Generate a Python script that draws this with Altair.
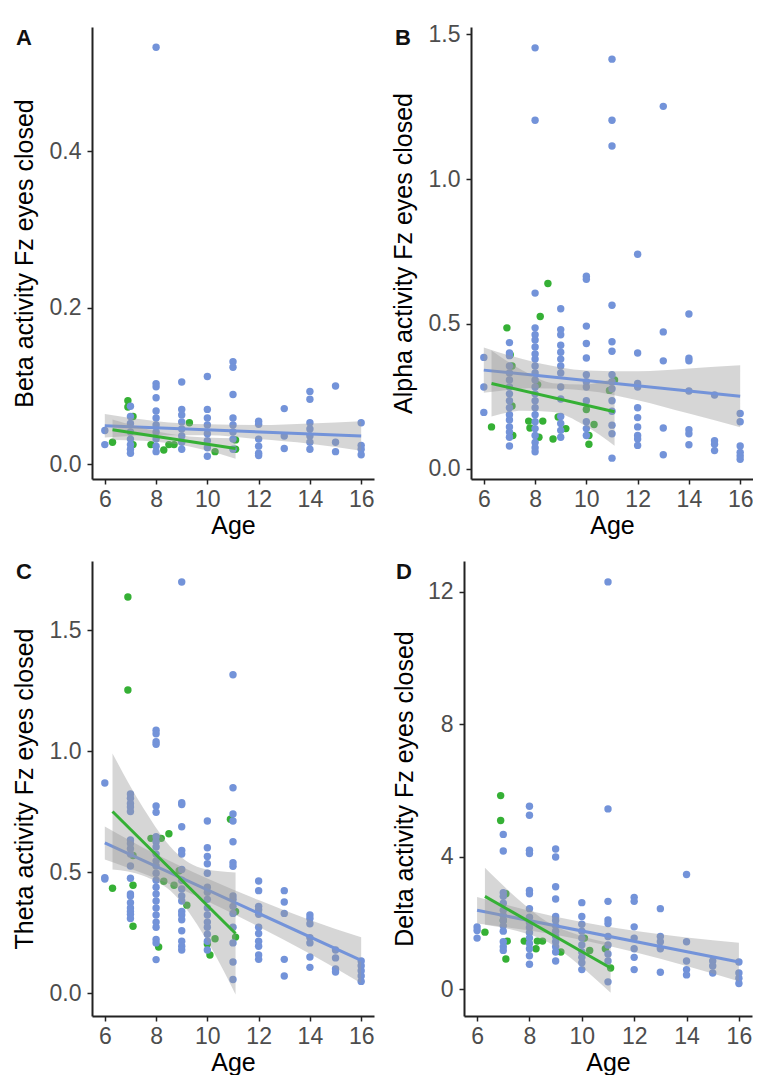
import altair as alt
import pandas as pd

BLUE = "#7393D9"
GREEN = "#35B035"
BAND = "#999999"
FONT = "Liberation Sans"

X_DOMAIN = [5.5, 16.5]
X_TICKS = [6, 8, 10, 12, 14, 16]
BLUE_AGES = [6, 7, 8, 9, 10, 11, 12, 13, 14, 15, 16]

# ---------------- Panel A: Beta ----------------
a_blue = [
    [0.043, 0.025],
    [0.074, 0.061, 0.052, 0.041, 0.032, 0.025, 0.019, 0.014],
    [0.533, 0.103, 0.099, 0.085, 0.068, 0.059, 0.050, 0.041, 0.032, 0.023, 0.016],
    [0.105, 0.070, 0.063, 0.054, 0.045, 0.036, 0.028, 0.019],
    [0.112, 0.070, 0.059, 0.050, 0.039, 0.030, 0.021, 0.010],
    [0.131, 0.124, 0.089, 0.059, 0.050, 0.041, 0.032, 0.019],
    [0.055, 0.051, 0.032, 0.023, 0.014, 0.011],
    [0.071, 0.036, 0.020],
    [0.093, 0.083, 0.053, 0.045, 0.036, 0.028, 0.019],
    [0.100, 0.028, 0.016],
    [0.053, 0.024, 0.019, 0.012],
]
a_green_age = [6.3, 6.9, 6.9, 7.1, 7.1, 7.8, 8.3, 8.5, 8.7, 9.3, 10.3, 11.1, 11.1]
a_green_val = [0.028, 0.081, 0.073, 0.061, 0.025, 0.025, 0.018, 0.025, 0.025, 0.053, 0.016, 0.031, 0.019]
a_blue_line = [[6, 16], [0.049, 0.036]]
a_green_line = [[6.3, 11.1], [0.044, 0.020]]
a_blue_band = [[6, 8, 10, 12, 14, 16],
               [0.034, 0.037, 0.037, 0.032, 0.026, 0.017],
               [0.064, 0.055, 0.051, 0.050, 0.052, 0.055]]
a_green_band = [[6.3, 7.5, 8.7, 9.9, 11.1],
                [0.031, 0.030, 0.026, 0.018, 0.007],
                [0.057, 0.046, 0.038, 0.034, 0.033]]

# ---------------- Panel B: Alpha ----------------
b_blue = [
    [0.384, 0.282, 0.194],
    [0.435, 0.399, 0.39, 0.354, 0.33, 0.306, 0.282, 0.258, 0.234, 0.21, 0.186, 0.168, 0.144, 0.126, 0.108, 0.078],
    [1.453, 1.203, 0.606, 0.486, 0.462, 0.444, 0.42, 0.396, 0.378, 0.354, 0.33, 0.306, 0.282, 0.258, 0.234, 0.21,
     0.186, 0.162, 0.138, 0.114, 0.09, 0.072, 0.058],
    [0.552, 0.48, 0.462, 0.426, 0.402, 0.378, 0.354, 0.33, 0.282, 0.24, 0.18, 0.156, 0.132, 0.108],
    [0.664, 0.654, 0.492, 0.432, 0.382, 0.324, 0.30, 0.282, 0.234, 0.162, 0.138, 0.114],
    [1.414, 1.203, 1.114, 0.564, 0.438, 0.405, 0.324, 0.30, 0.276, 0.234, 0.198, 0.15, 0.12, 0.036],
    [0.74, 0.399, 0.294, 0.282, 0.21, 0.176, 0.144, 0.114, 0.102, 0.08],
    [1.251, 0.472, 0.372, 0.14, 0.048],
    [0.534, 0.381, 0.372, 0.268, 0.134, 0.12, 0.082],
    [0.254, 0.096, 0.084, 0.062],
    [0.19, 0.162, 0.078, 0.056, 0.044, 0.032],
]
b_green_age = [6.3, 6.9, 7.03, 7.1, 7.1, 7.13, 7.75, 7.8, 8.1, 8.2, 8.3, 8.15, 8.5, 8.7, 8.9, 9.2,
               10.0, 10.1, 10.1, 10.3, 10.9, 11.1]
b_green_val = [0.144, 0.486, 0.393, 0.354, 0.216, 0.114, 0.164, 0.140, 0.29, 0.525, 0.164, 0.108, 0.639,
               0.102, 0.178, 0.138, 0.204, 0.084, 0.114, 0.152, 0.27, 0.306]
b_blue_line = [[6, 16], [0.34, 0.25]]
b_green_line = [[6.3, 11.1], [0.294, 0.196]]
b_blue_band = [[6, 8, 10, 12, 14, 16],
               [0.262, 0.277, 0.269, 0.236, 0.19, 0.143],
               [0.418, 0.367, 0.339, 0.336, 0.346, 0.357]]
b_green_band = [[6.3, 7.5, 8.7, 9.9, 11.1],
                [0.18, 0.1995, 0.195, 0.1505, 0.079],
                [0.408, 0.3395, 0.295, 0.2905, 0.313]]

# ---------------- Panel C: Theta ----------------
c_blue = [
    [0.870, 0.478, 0.473],
    [0.824, 0.807, 0.785, 0.771, 0.752, 0.634, 0.62, 0.598, 0.576, 0.527, 0.476, 0.411, 0.403, 0.375, 0.353,
     0.339, 0.327, 0.31],
    [1.088, 1.073, 1.040, 1.03, 0.775, 0.749, 0.648, 0.627, 0.605, 0.576, 0.548, 0.527, 0.497, 0.468, 0.439,
     0.411, 0.382, 0.353, 0.324, 0.295, 0.274, 0.223, 0.209, 0.14],
    [1.700, 0.788, 0.781, 0.689, 0.591, 0.576, 0.512, 0.468, 0.432, 0.403, 0.382, 0.339, 0.324, 0.305, 0.259,
     0.216, 0.195, 0.18],
    [0.713, 0.602, 0.566, 0.536, 0.497, 0.439, 0.418, 0.389, 0.353, 0.324, 0.295, 0.274, 0.245, 0.216, 0.18],
    [1.317, 0.85, 0.742, 0.713, 0.627, 0.54, 0.526, 0.403, 0.389, 0.36, 0.331, 0.274, 0.209, 0.13, 0.058],
    [0.465, 0.425, 0.36, 0.346, 0.327, 0.274, 0.248, 0.216, 0.195, 0.159, 0.141],
    [0.425, 0.378, 0.331, 0.141, 0.072],
    [0.324, 0.31, 0.288, 0.231, 0.209, 0.151, 0.108],
    [0.18, 0.147, 0.101, 0.089],
    [0.134, 0.115, 0.094, 0.072, 0.05],
]
c_green_age = [6.9, 6.9, 6.3, 7.1, 7.1, 7.1, 7.8, 8.1, 8.3, 8.5, 8.2, 8.7, 8.9, 9.2, 10.0, 10.1, 10.3,
               10.9, 11.1, 11.1]
c_green_val = [1.638, 1.254, 0.435, 0.447, 0.278, 0.57, 0.641, 0.192, 0.464, 0.66, 0.641, 0.447, 0.507,
               0.365, 0.205, 0.159, 0.226, 0.72, 0.339, 0.233]
c_blue_line = [[6, 16], [0.622, 0.137]]
c_green_line = [[6.3, 11.1], [0.752, 0.248]]
c_blue_band = [[6, 8, 10, 12, 14, 16],
               [0.554, 0.475, 0.381, 0.276, 0.164, 0.042],
               [0.690, 0.575, 0.475, 0.386, 0.304, 0.232]]
c_green_band = [[6.3, 7.5, 8.7, 9.9, 11.1],
                [0.512, 0.486, 0.41, 0.234, -0.004],
                [0.992, 0.766, 0.59, 0.514, 0.50]]

# ---------------- Panel D: Delta ----------------
d_blue = [
    [1.886, 1.78, 1.55],
    [4.68, 4.18, 2.92, 2.81, 2.6, 2.39, 2.23, 2.08, 1.92, 1.76, 1.44, 1.29, 1.18],
    [5.53, 5.26, 4.2, 4.1, 2.99, 2.89, 2.44, 2.18, 2.02, 1.87, 1.71, 1.55, 1.39, 1.23, 1.02, 0.76],
    [4.24, 4.0, 3.1, 2.73, 2.2, 2.08, 1.92, 1.76, 1.6, 1.44, 1.29, 1.13, 0.86],
    [2.62, 2.2, 1.97, 1.76, 1.55, 1.34, 1.13, 0.97, 0.81, 0.6],
    [12.3, 5.45, 2.66, 2.1, 1.99, 1.6, 1.34, 1.07, 0.86, 0.23],
    [2.78, 2.66, 1.89, 1.55, 1.23, 0.97, 0.6],
    [2.44, 1.6, 1.44, 1.23, 0.52],
    [3.47, 1.44, 0.86, 0.6, 0.44],
    [0.86, 0.71, 0.5],
    [0.83, 0.5, 0.34, 0.18],
]
d_green_age = [6.9, 6.9, 6.3, 7.1, 7.15, 7.1, 7.0, 7.8, 8.3, 8.25, 8.5, 9.2, 10.1, 10.3, 10.9, 11.1]
d_green_val = [5.85, 5.1, 1.73, 2.89, 1.46, 0.92, 2.08, 1.46, 1.46, 1.23, 1.46, 1.13, 1.55, 1.18, 1.23, 0.65]
d_blue_line = [[6, 16], [2.39, 0.83]]
d_green_line = [[6.3, 11.1], [2.81, 0.65]]
d_blue_band = [[6, 8, 10, 12, 14, 16],
               [1.99, 1.778, 1.496, 1.134, 0.712, 0.25],
               [2.79, 2.378, 2.036, 1.774, 1.572, 1.41]]
d_green_band = [[6.3, 7.5, 8.7, 9.9, 11.1],
                [1.95, 1.77, 1.43, 0.74, -0.10],
                [3.67, 2.77, 2.03, 1.64, 1.40]]


def xenc(field):
    return alt.X(field, type="quantitative",
                 scale=alt.Scale(domain=X_DOMAIN, nice=False, zero=False),
                 axis=alt.Axis(values=X_TICKS, title="Age", format="d"))


def panel(letter, letter_dx, ytitle, blue, g_age, g_val, bl_line, gr_line, bl_band, gr_band,
          ydom, yticks, yfmt, width, height, ext):
    yscale = alt.Scale(domain=ydom, nice=False, zero=False)
    yaxis = alt.Axis(values=yticks, format=yfmt, title=ytitle, minExtent=ext, maxExtent=ext)

    def yenc(field):
        return alt.Y(field, type="quantitative", scale=yscale, axis=yaxis, title=ytitle)

    bx, by = [], []
    for age, vals in zip(BLUE_AGES, blue):
        for v in vals:
            bx.append(age)
            by.append(v)
    blue_df = pd.DataFrame({"age": bx, "val": by})
    green_df = pd.DataFrame({"age": g_age, "val": g_val})
    bl_line_df = pd.DataFrame({"age": bl_line[0], "val": bl_line[1]})
    gr_line_df = pd.DataFrame({"age": gr_line[0], "val": gr_line[1]})
    bl_band_df = pd.DataFrame({"age": bl_band[0], "lo": bl_band[1], "hi": bl_band[2]})
    gr_band_df = pd.DataFrame({"age": gr_band[0], "lo": gr_band[1], "hi": gr_band[2]})

    pts_b = alt.Chart(blue_df).mark_circle(size=55, opacity=1, color=BLUE).encode(
        x=xenc("age"), y=yenc("val"))
    pts_g = alt.Chart(green_df).mark_circle(size=55, opacity=1, color=GREEN).encode(
        x=xenc("age"), y=yenc("val"))
    band_b = alt.Chart(bl_band_df).mark_area(color=BAND, opacity=0.4, interpolate="monotone").encode(
        x=xenc("age"), y=yenc("lo"), y2=alt.Y2("hi"))
    band_g = alt.Chart(gr_band_df).mark_area(color=BAND, opacity=0.4, interpolate="monotone").encode(
        x=xenc("age"), y=yenc("lo"), y2=alt.Y2("hi"))
    line_b = alt.Chart(bl_line_df).mark_line(color=BLUE, strokeWidth=3).encode(
        x=xenc("age"), y=yenc("val"))
    line_g = alt.Chart(gr_line_df).mark_line(color=GREEN, strokeWidth=3).encode(
        x=xenc("age"), y=yenc("val"))
    lab = alt.Chart(pd.DataFrame({"t": [letter]})).mark_text(
        font=FONT, fontSize=22, fontWeight="bold", color="#111111", align="left",
        baseline="alphabetic").encode(text="t:N", x=alt.value(letter_dx), y=alt.value(18))
    return alt.layer(pts_g, pts_b, band_b, line_b, band_g, line_g, lab).properties(
        width=width, height=height)


A = panel("A", -76, "Beta activity Fz eyes closed", a_blue, a_green_age, a_green_val,
          a_blue_line, a_green_line, a_blue_band, a_green_band,
          [-0.019, 0.559], [0.0, 0.2, 0.4], ".1f", 282, 452, 45)
B = panel("B", -76, "Alpha activity Fz eyes closed", b_blue, b_green_age, b_green_val,
          b_blue_line, b_green_line, b_blue_band, b_green_band,
          [-0.036, 1.525], [0.0, 0.5, 1.0, 1.5], ".1f", 282, 452, 45)
C = panel("C", -76, "Theta activity Fz eyes closed", c_blue, c_green_age, c_green_val,
          c_blue_line, c_green_line, c_blue_band, c_green_band,
          [-0.093, 1.787], [0.0, 0.5, 1.0, 1.5], ".1f", 282, 455, 45)
D = panel("D", -68, "Delta activity Fz eyes closed", d_blue, d_green_age, d_green_val,
          d_blue_line, d_green_line, d_blue_band, d_green_band,
          [-0.8, 12.93], [0, 4, 8, 12], "d", 288, 455, 37)

row1 = alt.hconcat(A, B, spacing=17)
row2 = alt.hconcat(C, D, spacing=18)
chart = alt.vconcat(row1, row2, spacing=23).properties(
    padding={"left": 4, "top": 15, "right": 0, "bottom": 0}
).configure_view(stroke=None).configure_axis(
    grid=False,
    domainColor="#222222", domainWidth=2,
    tickColor="#222222", tickWidth=1.5, tickSize=5,
    labelFont=FONT, labelFontSize=23, labelColor="#4D4D4D", labelPadding=6,
    titleFont=FONT, titleFontSize=25, titleFontWeight="normal", titleColor="#000000",
    titlePadding=10,
).configure_axisX(labelPadding=4, titlePadding=2)

chart.save("out.html", embed_options={"renderer": "svg", "actions": False})
